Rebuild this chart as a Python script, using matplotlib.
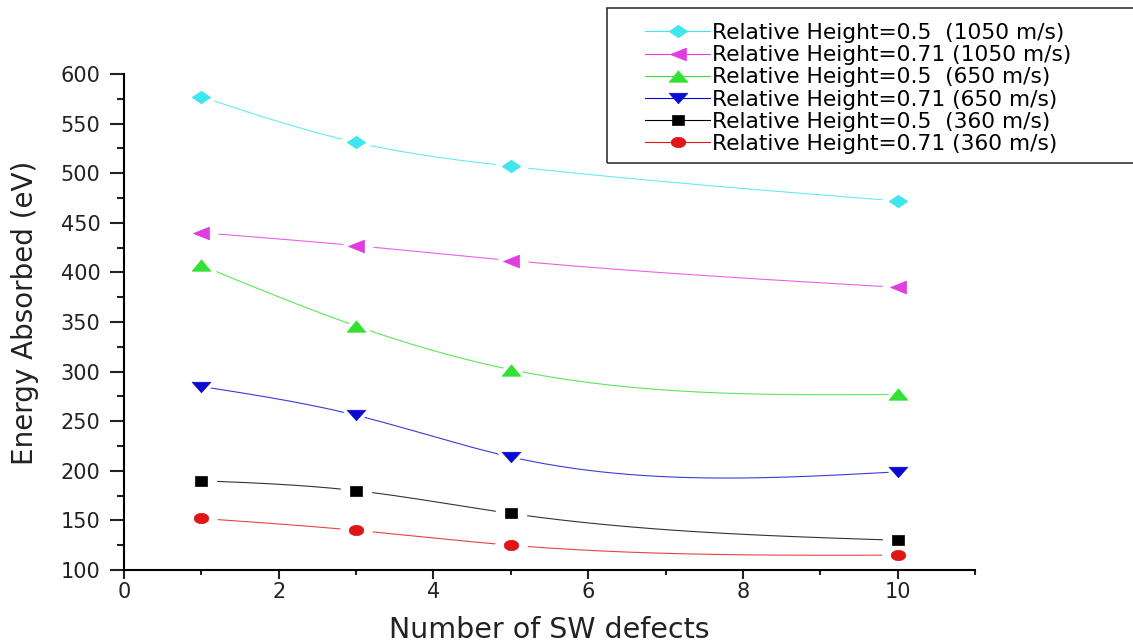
import numpy as np
import matplotlib.pyplot as plt
from matplotlib.path import Path
from matplotlib.patches import Rectangle

plt.rcParams['font.family'] = ['DejaVu Sans']

# data
defects = [1, 3, 5, 10]
e_05_1050 = [577, 531, 507, 472]
e_071_1050 = [440, 427, 412, 385]
e_05_650 = [407, 346, 302, 277]
e_071_650 = [285, 256, 214, 199]
e_05_360 = [190, 180, 157, 130]
e_071_360 = [152, 140, 125, 115]

labels = ['Relative Height=0.5  (1050 m/s)',
          'Relative Height=0.71 (1050 m/s)',
          'Relative Height=0.5  (650 m/s)',
          'Relative Height=0.71 (650 m/s)',
          'Relative Height=0.5  (360 m/s)',
          'Relative Height=0.71 (360 m/s)']
series = [e_05_1050, e_071_1050, e_05_650, e_071_650, e_05_360, e_071_360]
colors = ['#3fe6ee', '#e03ce0', '#33e033', '#0a0ad0', '#000000', '#e01515']

# the original looks stretched sideways, so the markers are wide shapes
t = np.linspace(0, 2 * np.pi, 40)
mk_shapes = [
    Path([(-1.5, 0), (0, 1), (1.5, 0), (0, -1), (-1.5, 0)], closed=True),
    Path([(-1, 0), (1, 0.8), (1, -0.8), (-1, 0)], closed=True),
    Path([(-1, -0.61), (1, -0.61), (0, 0.61), (-1, -0.61)], closed=True),
    Path([(-1, 0.56), (1, 0.56), (0, -0.56), (-1, 0.56)], closed=True),
    Path([(-1, -0.83), (1, -0.83), (1, 0.83), (-1, 0.83), (-1, -0.83)], closed=True),
    Path(np.column_stack([np.cos(t), 0.71 * np.sin(t)]), closed=True),
]
msizes = [13.5, 11.5, 13.5, 13.5, 9, 10.5]


def natural_spline(x, y, n=200):
    # natural cubic spline through the points
    x = np.asarray(x, float)
    y = np.asarray(y, float)
    k = len(x)
    h = np.diff(x)
    A = np.zeros((k, k))
    b = np.zeros(k)
    A[0, 0] = 1
    A[-1, -1] = 1
    for i in range(1, k - 1):
        A[i, i - 1] = h[i - 1]
        A[i, i] = 2 * (h[i - 1] + h[i])
        A[i, i + 1] = h[i]
        b[i] = 3 * ((y[i + 1] - y[i]) / h[i] - (y[i] - y[i - 1]) / h[i - 1])
    c = np.linalg.solve(A, b)
    xs = np.linspace(x[0], x[-1], n)
    ys = np.empty_like(xs)
    for j, xv in enumerate(xs):
        i = min(np.searchsorted(x, xv, side='right') - 1, k - 2)
        dx = xv - x[i]
        bb = (y[i + 1] - y[i]) / h[i] - h[i] * (2 * c[i] + c[i + 1]) / 3
        d = (c[i + 1] - c[i]) / (3 * h[i])
        ys[j] = y[i] + bb * dx + c[i] * dx ** 2 + d * dx ** 3
    return xs, ys


fig = plt.figure(figsize=(11.33, 6.42), dpi=100)
ax = fig.add_axes([0.1094, 0.1121, 0.7512, 0.7726])

handles = []
for vals, col, mk, ms, lab in zip(series, colors, mk_shapes, msizes, labels):
    xs, ys = natural_spline(defects, vals)
    ax.plot(xs, ys, color=col, lw=0.8, alpha=0.8, zorder=1)
    # white halo so the line stops short of the marker
    ax.plot(defects, vals, ls='none', marker=mk, ms=ms + 12, color='white',
            markeredgecolor='white', zorder=2)
    ax.plot(defects, vals, ls='none', marker=mk, ms=ms, color=col,
            markeredgecolor=col, markeredgewidth=0.5, zorder=3)
    h, = ax.plot([], [], color=col, lw=0.8, marker=mk, ms=ms,
                 markeredgecolor=col, markeredgewidth=0.5, label=lab)
    handles.append(h)

ax.set_xlim(0, 11)
ax.set_ylim(100, 600)
ax.set_xticks([0, 2, 4, 6, 8, 10])
ax.set_xticks(np.arange(0, 12, 1), minor=True)
ax.set_yticks(np.arange(100, 601, 50))
ax.set_yticks(np.arange(100, 601, 25), minor=True)
for s in ['top', 'right']:
    ax.spines[s].set_visible(False)
for s in ['left', 'bottom']:
    ax.spines[s].set_linewidth(1.5)
ax.tick_params(which='both', direction='out', width=1.5, colors='#222222')
ax.tick_params(axis='y', which='major', length=10, pad=7, labelsize=15)
ax.tick_params(axis='y', which='minor', length=5)
ax.tick_params(axis='x', which='major', length=6.5, pad=2, labelsize=15)
ax.tick_params(axis='x', which='minor', length=3.3)
ax.set_xlabel('Number of SW defects', fontsize=20.5, color='#222222', va='center')
ax.set_ylabel('Energy Absorbed (eV)', fontsize=20, color='#222222', va='center')
ax.xaxis.set_label_coords(0.5, -0.121)
ax.yaxis.set_label_coords(-0.116, 0.518)

# legend frame runs off the right edge of the picture
fig.patches.append(Rectangle((607 / 1133, 1 - 163 / 642), 0.6, 155 / 642,
                             transform=fig.transFigure, fill=False,
                             edgecolor='#333333', lw=1.2))
leg = fig.legend(handles=handles, loc='upper left',
                 bbox_to_anchor=(645 / 1133, 1 - 23 / 642),
                 fontsize=15.7, frameon=False, handlelength=3.0,
                 handletextpad=0.05, labelspacing=0.1, borderpad=0,
                 borderaxespad=0)

fig.savefig('out.png', dpi=100)
